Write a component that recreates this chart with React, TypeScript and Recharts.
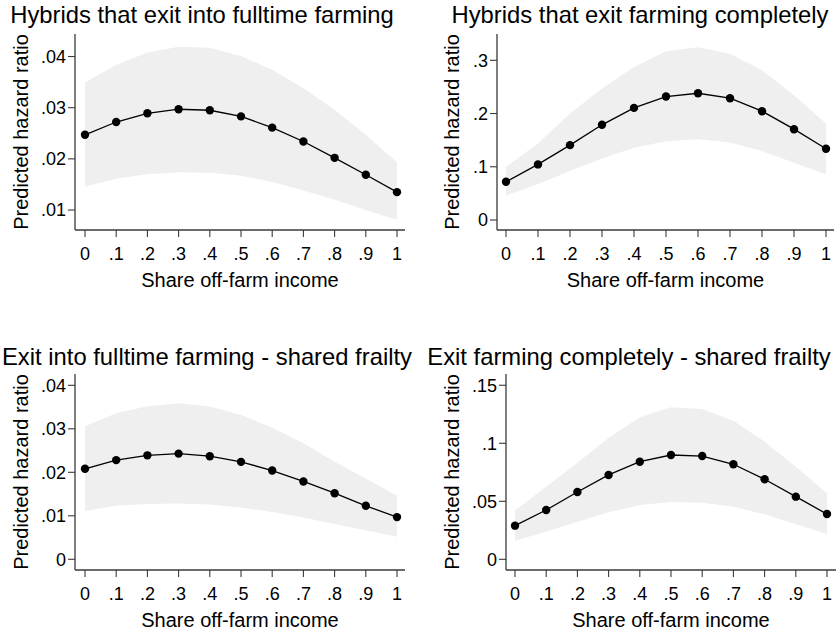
import React from 'react';
import { ComposedChart, Area, Line, XAxis, YAxis, Label } from 'recharts';

// Share off-farm income (x) for every panel
const SHARES = [0, 0.1, 0.2, 0.3, 0.4, 0.5, 0.6, 0.7, 0.8, 0.9, 1];

// Hybrids that exit into fulltime farming
const FT_EST = [0.0247, 0.0272, 0.0289, 0.0297, 0.0295, 0.0283, 0.0261, 0.0234, 0.0202, 0.0169, 0.0135];
const FT_HI = [0.0349, 0.0384, 0.0408, 0.0419, 0.0417, 0.0401, 0.0374, 0.0338, 0.0296, 0.0247, 0.0193];
const FT_LO = [0.0146, 0.0161, 0.017, 0.0174, 0.0173, 0.0167, 0.0155, 0.0138, 0.012, 0.01, 0.0081];

// Hybrids that exit farming completely
const EX_EST = [0.0718, 0.1044, 0.1406, 0.1788, 0.2106, 0.2319, 0.2381, 0.2288, 0.2044, 0.1706, 0.1337];
const EX_HI = [0.1, 0.1438, 0.2, 0.247, 0.2875, 0.317, 0.3244, 0.3125, 0.2813, 0.2344, 0.1813];
const EX_LO = [0.0456, 0.0675, 0.0919, 0.1156, 0.1356, 0.1481, 0.1519, 0.1456, 0.1294, 0.1075, 0.0856];

// Exit into fulltime farming - shared frailty
const FTF_EST = [0.0208, 0.0228, 0.0239, 0.0243, 0.0237, 0.0224, 0.0204, 0.0179, 0.0152, 0.0123, 0.0097];
const FTF_HI = [0.0306, 0.0336, 0.0352, 0.0359, 0.0351, 0.0332, 0.0303, 0.0267, 0.0224, 0.0186, 0.0146];
const FTF_LO = [0.0111, 0.0123, 0.0127, 0.0128, 0.0126, 0.0119, 0.0109, 0.0096, 0.0081, 0.0067, 0.0052];

// Exit farming completely - shared frailty
const EXF_EST = [0.029, 0.0425, 0.058, 0.0727, 0.0841, 0.0899, 0.089, 0.0819, 0.069, 0.054, 0.039];
const EXF_HI = [0.0422, 0.0626, 0.0833, 0.1048, 0.1224, 0.131, 0.1296, 0.1195, 0.1014, 0.0798, 0.0569];
const EXF_LO = [0.016, 0.0238, 0.0324, 0.0405, 0.0468, 0.0494, 0.0488, 0.0453, 0.0388, 0.0302, 0.0218];

const TICKS_SMALL = [0.01, 0.02, 0.03, 0.04];
const TICKS_SMALL0 = [0, 0.01, 0.02, 0.03, 0.04];
const TICKS_EX = [0, 0.1, 0.2, 0.3];
const TICKS_EXF = [0, 0.05, 0.1, 0.15];

const FONT = '"Liberation Sans", Arial, Helvetica, sans-serif';
const AXIS_COLOR = '#3a3a3a';
const BAND = '#efefef';

// Stata style labels: drop the leading zero
const fmt = (v: number) => String(v).replace(/^0\./, '.');

interface PanelProps {
  title: string;
  est: number[];
  lo: number[];
  hi: number[];
  domain: [number, number];
  yTicks: number[];
  left: number;
  top: number;
  plotTop: number;
  yWidth: number;
  right: number;
  pad: { left: number; right: number };
  yLabelX: number;
  titleX: number;
  titleTop: number;
}

function Panel(p: PanelProps) {
  const data = SHARES.map((s, i) => ({ share: s, est: p.est[i], band: [p.lo[i], p.hi[i]] }));
  const height = p.plotTop + 196 + 70;
  return (
    <div style={{ position: 'absolute', left: p.left, top: p.top, width: 419, height }}>
      <div
        style={{
          position: 'absolute',
          left: p.titleX - 250,
          width: 500,
          top: p.titleTop,
          textAlign: 'center',
          fontFamily: FONT,
          fontSize: 23.8,
          lineHeight: '24px',
          color: '#000',
          whiteSpace: 'nowrap',
        }}
      >
        {p.title}
      </div>
      <ComposedChart
        width={419}
        height={height}
        data={data}
        margin={{ top: p.plotTop, right: p.right, bottom: 0, left: 0 }}
        style={{ fontFamily: FONT }}
      >
        <XAxis
          dataKey="share"
          type="number"
          domain={[0, 1]}
          ticks={SHARES}
          tickFormatter={fmt}
          padding={p.pad}
          height={70}
          tickSize={7}
          tickMargin={10}
          axisLine={{ stroke: AXIS_COLOR, strokeWidth: 1.3 }}
          tickLine={{ stroke: AXIS_COLOR, strokeWidth: 1.1 }}
          tick={{ fill: '#000', fontSize: 18 }}
        >
          <Label value="Share off-farm income" position="insideBottom" offset={13.5} fill="#000" fontSize={20} />
        </XAxis>
        <XAxis
          xAxisId="top"
          orientation="top"
          type="number"
          domain={[0, 1]}
          height={0}
          tick={false}
          tickLine={false}
          axisLine={{ stroke: AXIS_COLOR, strokeWidth: 1.3 }}
        />
        <YAxis
          type="number"
          domain={p.domain}
          ticks={p.yTicks}
          tickFormatter={fmt}
          allowDataOverflow
          width={p.yWidth}
          tickSize={7}
          tickMargin={2}
          axisLine={{ stroke: AXIS_COLOR, strokeWidth: 1.3 }}
          tickLine={{ stroke: AXIS_COLOR, strokeWidth: 1.1 }}
          tick={{ fill: '#000', fontSize: 18 }}
        >
          <Label
            content={(props: any) => {
              const vb = props.viewBox;
              const cy = vb.y + vb.height / 2;
              return (
                <text
                  x={p.yLabelX}
                  y={cy}
                  transform={`rotate(-90, ${p.yLabelX}, ${cy})`}
                  textAnchor="middle"
                  dominantBaseline="central"
                  fill="#000"
                  fontSize={20}
                  fontFamily={FONT}
                >
                  Predicted hazard ratio
                </text>
              );
            }}
          />
        </YAxis>
        <YAxis
          yAxisId="right"
          orientation="right"
          type="number"
          domain={p.domain}
          width={0}
          tick={false}
          tickLine={false}
          axisLine={{ stroke: AXIS_COLOR, strokeWidth: 1.3 }}
        />
        <Area
          dataKey="band"
          type="linear"
          stroke="none"
          fill={BAND}
          fillOpacity={1}
          isAnimationActive={false}
        />
        <Line
          dataKey="est"
          type="linear"
          stroke="#000"
          strokeWidth={1.3}
          dot={{ r: 4.2, fill: '#000', stroke: '#000', strokeWidth: 0 }}
          activeDot={false}
          isAnimationActive={false}
        />
      </ComposedChart>
    </div>
  );
}

export default function App() {
  return (
    <div
      style={{
        position: 'absolute',
        left: 0,
        top: 0,
        width: 838,
        height: 631,
        overflow: 'hidden',
        background: '#fff',
      }}
    >
      <Panel
        title="Hybrids that exit into fulltime farming"
        est={FT_EST}
        lo={FT_LO}
        hi={FT_HI}
        domain={[0.0061, 0.0444]}
        yTicks={TICKS_SMALL}
        left={0}
        top={0}
        plotTop={34}
        yWidth={75}
        right={14}
        pad={{ left: 10, right: 8 }}
        yLabelX={21}
        titleX={202}
        titleTop={3}
      />
      <Panel
        title="Hybrids that exit farming completely"
        est={EX_EST}
        lo={EX_LO}
        hi={EX_HI}
        domain={[-0.0188, 0.3494]}
        yTicks={TICKS_EX}
        left={419}
        top={0}
        plotTop={34}
        yWidth={78}
        right={4}
        pad={{ left: 9, right: 8 }}
        yLabelX={33}
        titleX={221}
        titleTop={3}
      />
      <Panel
        title="Exit into fulltime farming - shared frailty"
        est={FTF_EST}
        lo={FTF_LO}
        hi={FTF_HI}
        domain={[-0.00246, 0.0426]}
        yTicks={TICKS_SMALL0}
        left={0}
        top={330}
        plotTop={44}
        yWidth={75}
        right={14}
        pad={{ left: 10, right: 8 }}
        yLabelX={21}
        titleX={207}
        titleTop={15}
      />
      <Panel
        title="Exit farming completely - shared frailty"
        est={EXF_EST}
        lo={EXF_LO}
        hi={EXF_HI}
        domain={[-0.0092, 0.1597]}
        yTicks={TICKS_EXF}
        left={419}
        top={330}
        plotTop={44}
        yWidth={87}
        right={2}
        pad={{ left: 9, right: 9 }}
        yLabelX={33}
        titleX={210}
        titleTop={15}
      />
    </div>
  );
}
